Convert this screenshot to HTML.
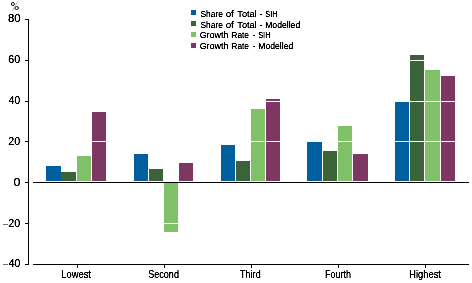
<!DOCTYPE html>
<html><head><meta charset="utf-8"><style>
html,body{margin:0;padding:0;background:#fff;}
#c{position:relative;width:472px;height:283px;overflow:hidden;background:#fff;}
svg{position:absolute;left:0;top:0;}
text{font-family:"Liberation Sans",sans-serif;fill:#000;stroke:#000;stroke-width:0.2px;}
.t{filter:url(#crisp);}
</style></head><body><div id="c">
<svg width="472" height="283" viewBox="0 0 472 283" shape-rendering="crispEdges">
<rect x="46" y="166" width="15" height="15" fill="#00609f"/><rect x="61" y="172" width="15" height="9" fill="#3a6338"/><rect x="77" y="156" width="14" height="25" fill="#80c068"/><rect x="92" y="112" width="14" height="69" fill="#7d3762"/><rect x="134" y="154" width="14" height="27" fill="#00609f"/><rect x="149" y="169" width="14" height="12" fill="#3a6338"/><rect x="164" y="183" width="14" height="49" fill="#80c068"/><rect x="179" y="163" width="14" height="18" fill="#7d3762"/><rect x="221" y="145" width="14" height="36" fill="#00609f"/><rect x="236" y="161" width="14" height="20" fill="#3a6338"/><rect x="251" y="109" width="14" height="72" fill="#80c068"/><rect x="266" y="99" width="14" height="82" fill="#7d3762"/><rect x="307" y="142" width="15" height="39" fill="#00609f"/><rect x="323" y="151" width="14" height="30" fill="#3a6338"/><rect x="338" y="126" width="14" height="55" fill="#80c068"/><rect x="353" y="154" width="15" height="27" fill="#7d3762"/><rect x="395" y="102" width="14" height="79" fill="#00609f"/><rect x="410" y="55" width="14" height="126" fill="#3a6338"/><rect x="425" y="70" width="15" height="111" fill="#80c068"/><rect x="441" y="76" width="14" height="105" fill="#7d3762"/>
<rect x="33" y="60" width="436" height="1" fill="#fff"/><rect x="33" y="101" width="436" height="1" fill="#fff"/><rect x="33" y="141" width="436" height="1" fill="#fff"/><rect x="33" y="223" width="436" height="1" fill="#fff"/>
<rect x="28" y="19" width="1" height="246" fill="#000"/>
<rect x="25" y="19" width="3" height="1" fill="#000"/><rect x="25" y="60" width="3" height="1" fill="#000"/><rect x="25" y="101" width="3" height="1" fill="#000"/><rect x="25" y="141" width="3" height="1" fill="#000"/><rect x="25" y="182" width="3" height="1" fill="#000"/><rect x="25" y="223" width="3" height="1" fill="#000"/><rect x="25" y="264" width="3" height="1" fill="#000"/>
<rect x="33" y="182" width="436" height="1" fill="#000"/>
<rect x="33" y="264" width="436" height="1" fill="#000"/>
<rect x="77" y="265" width="1" height="3" fill="#000"/><rect x="164" y="265" width="1" height="3" fill="#000"/><rect x="251" y="265" width="1" height="3" fill="#000"/><rect x="338" y="265" width="1" height="3" fill="#000"/><rect x="425" y="265" width="1" height="3" fill="#000"/>
<g fill="none" stroke="#000" shape-rendering="geometricPrecision"><ellipse cx="12.85" cy="4" rx="1.45" ry="1.6" stroke-width="0.95"/><ellipse cx="16.7" cy="8.05" rx="1.85" ry="1.45" stroke-width="0.95"/><line x1="17.7" y1="1.8" x2="12.3" y2="10.8" stroke-width="0.8" stroke="#999"/></g>
<rect x="3" y="224" width="5" height="1" fill="#707070"/><rect x="3" y="264" width="5" height="1" fill="#707070"/>
<rect x="191" y="10" width="5" height="5" fill="#00609f"/>
<rect x="191" y="21" width="5" height="5" fill="#3a6338"/>
<rect x="191" y="32" width="5" height="5" fill="#80c068"/>
<rect x="191" y="43" width="5" height="5" fill="#7d3762"/>
</svg>
<svg class="t" width="472" height="283" viewBox="0 0 472 283">
<defs><filter id="crisp" x="0" y="0" width="100%" height="100%" color-interpolation-filters="sRGB"><feColorMatrix type="saturate" values="0"/><feComponentTransfer><feFuncA type="table" tableValues="0 0.15 1 1"/></feComponentTransfer></filter></defs>
<text font-size="10" transform="translate(200.48,17) scale(0.8462,0.93)">Share</text><text font-size="10" transform="translate(225.66,17) scale(0.9697,0.93)">of</text><text font-size="10" transform="translate(237.30,17) scale(0.9171,0.93)">Total</text><text font-size="10" transform="translate(259.59,17) scale(0.8364,0.93)">-</text><text font-size="10" transform="translate(265.23,17) scale(0.7355,0.93)">SIH</text><text font-size="10" transform="translate(200.48,28) scale(0.8462,0.93)">Share</text><text font-size="10" transform="translate(225.66,28) scale(0.9697,0.93)">of</text><text font-size="10" transform="translate(237.30,28) scale(0.9171,0.93)">Total</text><text font-size="10" transform="translate(259.59,28) scale(0.8364,0.93)">-</text><text font-size="10" transform="translate(265.15,28) scale(0.8637,0.93)">Modelled</text><text font-size="10" transform="translate(199.65,38) scale(0.8960,0.93)">Growth</text><text font-size="10" transform="translate(231.37,38) scale(0.8375,0.93)">Rate</text><text font-size="10" transform="translate(252.71,38) scale(0.7636,0.93)">-</text><text font-size="10" transform="translate(258.13,38) scale(0.7484,0.93)">SIH</text><text font-size="10" transform="translate(199.65,49) scale(0.8960,0.93)">Growth</text><text font-size="10" transform="translate(231.37,49) scale(0.8375,0.93)">Rate</text><text font-size="10" transform="translate(252.71,49) scale(0.7636,0.93)">-</text><text font-size="10" transform="translate(258.35,49) scale(0.8611,0.93)">Modelled</text><text font-size="10" transform="translate(61.30,278) scale(0.9355,1)">Lowest</text><text font-size="10" transform="translate(148.15,278) scale(0.9099,1)">Second</text><text font-size="10" transform="translate(240.00,278) scale(0.9079,1)">Third</text><text font-size="10" transform="translate(325.12,278) scale(0.9009,1)">Fourth</text><text font-size="10" transform="translate(409.30,278) scale(0.9323,1)">Highest</text><text font-size="10" transform="translate(7.92,22) scale(1.1333,1)">80</text><text font-size="10" transform="translate(8.26,63) scale(1.0732,1)">60</text><text font-size="10" transform="translate(8.85,104) scale(1.0186,1)">40</text><text font-size="10" transform="translate(8.32,145) scale(1.0683,1)">20</text><text font-size="10" transform="translate(13.59,186) scale(1.2400,1)">0</text><text font-size="10" transform="translate(8.32,227) scale(1.0683,1)">20</text><text font-size="10" transform="translate(8.70,267) scale(1.0512,1)">40</text>
</svg>
</div></body></html>
